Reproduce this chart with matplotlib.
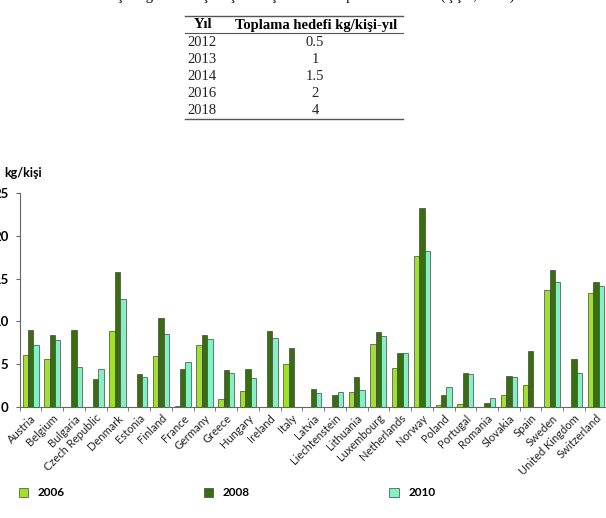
import numpy as np
import matplotlib
matplotlib.use("Agg")
import matplotlib.pyplot as plt
from matplotlib.patches import Patch

countries = ["Austria", "Belgium", "Bulgaria", "Czech Republic", "Denmark", "Estonia",
             "Finland", "France", "Germany", "Greece", "Hungary", "Ireland", "Italy",
             "Latvia", "Liechtenstein", "Lithuania", "Luxembourg", "Netherlands",
             "Norway", "Poland", "Portugal", "Romania", "Slovakia", "Spain", "Sweden",
             "United Kingdom", "Switzerland"]
y2006 = [6.1, 5.6, 0, 0, 8.9, 0, 6.0, 0.1, 7.3, 0.9, 1.85, 0, 5.05, 0, 0, 1.8,
         7.35, 4.55, 17.6, 0.2, 0.4, 0, 1.35, 2.55, 13.7, 0, 13.3]
y2008 = [9.0, 8.4, 9.05, 3.3, 15.8, 3.8, 10.4, 4.4, 8.4, 4.3, 4.45, 8.9, 6.9, 2.05,
         1.45, 3.5, 8.75, 6.35, 23.3, 1.35, 3.95, 0.45, 3.6, 6.55, 16.05, 5.6, 14.6]
y2010 = [7.2, 7.85, 4.7, 4.4, 12.6, 3.5, 8.5, 5.25, 7.9, 4.0, 3.35, 8.05, 0, 1.6,
         1.75, 1.95, 8.3, 6.35, 18.2, 2.3, 3.8, 1.1, 3.55, 0, 14.6, 4.0, 14.1]
series_names = ["2006", "2008", "2010"]
colors = ["#a3e02c", "#3a6c12", "#84f0c6"]

table_years = ["2012", "2013", "2014", "2016", "2018"]
table_targets = ["0.5", "1", "1.5", "2", "4"]

W, H = 606, 518
fig = plt.figure(figsize=(W / 100, H / 100), dpi=100)

# --- table on top (serif, like the document) ---
serif = "Liberation Serif"
# caption is cut off by the top edge in the source, only its lower part shows
fig.text(0.52, 1 + 4 / H, "Çizelge 2.1. Kişi başına düşen AEEE toplama hedefleri (ÇŞB, 2012)",
         ha="center", va="center", fontsize=10.5, family=serif)
x0, x1 = 185 / W, 403 / W
for yy, lw in [(16, 1.0), (33, 0.8), (119, 1.0)]:
    fig.add_artist(plt.Line2D([x0, x1], [1 - yy / H, 1 - yy / H], color="#555555", lw=lw))
fig.text(203 / W, 1 - 25 / H, "Yıl", ha="center", va="center", fontsize=10.5,
         fontweight="bold", family=serif)
fig.text(316 / W, 1 - 25 / H, "Toplama hedefi kg/kişi-yıl", ha="center", va="center",
         fontsize=10.5, fontweight="bold", family=serif)
for i, (yr, tv) in enumerate(zip(table_years, table_targets)):
    yy = 1 - (42.5 + i * 17) / H
    fig.text(187 / W, yy, yr, ha="left", va="center", fontsize=10.5, family=serif, color="#222222")
    fig.text(315 / W, yy, tv, ha="center", va="center", fontsize=10.5, family=serif, color="#222222")

# --- bar chart ---
ax = fig.add_axes([19.7 / W, 111 / H, 587 / W, 214 / H])
x = np.arange(len(countries))
bw = 0.247
for k, (vals, name, c) in enumerate(zip([y2006, y2008, y2010], series_names, colors)):
    ax.bar(x + (k - 1) * bw, vals, bw, color=c, edgecolor="#3d4a35", linewidth=0.5, label=name)

ax.set_xlim(-0.5, len(countries) - 0.5)
ax.set_ylim(0, 25)
ax.set_yticks([0, 5, 10, 15, 20, 25])
ax.set_xticks(x)
ax.set_xticklabels(countries, rotation=45, ha="right", rotation_mode="anchor",
                   fontsize=8, family="Lato", color="#222222")
ax.set_xticks(np.arange(-0.5, len(countries), 1), minor=True)
ax.tick_params(axis="x", which="major", length=0, pad=4)
ax.tick_params(axis="x", which="minor", length=3, color="#666666")
ax.tick_params(axis="y", length=3, color="#666666", pad=5, labelsize=9.5)
for lab in ax.get_yticklabels():
    lab.set_fontweight("bold")
    lab.set_family("Lato")
for s in ["top", "right"]:
    ax.spines[s].set_visible(False)
for s in ["left", "bottom"]:
    ax.spines[s].set_color("#666666")
    ax.spines[s].set_linewidth(0.8)

fig.text(4 / W, 1 - 173 / H, "kg/kişi", ha="left", va="center", fontsize=9,
         fontweight="bold", family="Lato")

# legend spread across the bottom
handles = [Patch(facecolor=c, edgecolor="#3d4a35", linewidth=0.5) for c in colors]
fig.legend(handles, series_names, loc="center left", bbox_to_anchor=(8 / W, 1 - 493 / H),
           ncol=3, frameon=False, handlelength=0.8, handleheight=0.8, handletextpad=0.8,
           columnspacing=11.8, prop={"family": "Lato", "weight": "bold", "size": 8.5})

fig.savefig("out.png", dpi=100)
